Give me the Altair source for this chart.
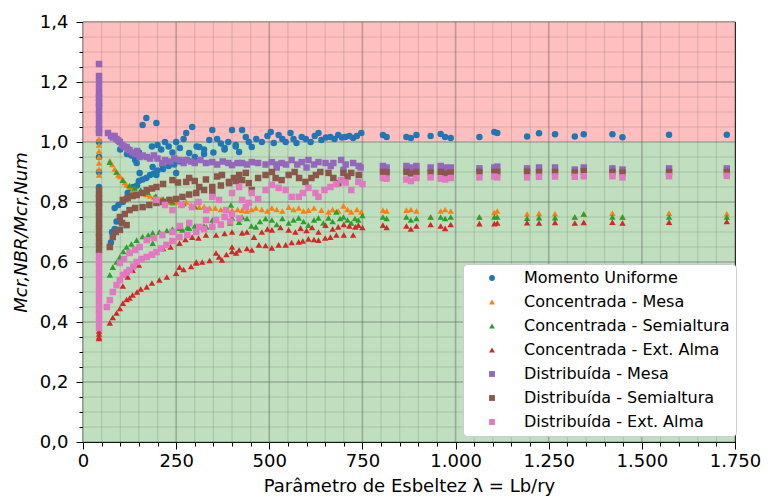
import altair as alt
import pandas as pd

labels = ["Momento Uniforme", "Concentrada - Mesa", "Concentrada - Semialtura",
          "Concentrada - Ext. Alma", "Distribuída - Mesa", "Distribuída - Semialtura",
          "Distribuída - Ext. Alma"]
colors = ["#1f77b4", "#ff7f0e", "#2ca02c", "#d62728", "#9467bd", "#8c564b", "#e377c2"]
shapes = ["circle", "triangle-up", "triangle-up", "triangle-up", "square", "square", "square"]

stack_x = 43
blue_stack = [1.14, 1.12, 1.10, 1.05, 1.0, 0.95, 0.90, 0.85, 0.82, 0.79, 0.76, 0.72, 0.69, 0.66]
orange_stack = [1.09, 1.07, 1.05, 1.03, 1.01, 0.99, 0.97, 0.95, 0.93, 0.91, 0.89]
green_stack = [0.70, 0.67, 0.64, 0.62, 0.60, 0.58, 0.56, 0.53]
red_stack = [0.44, 0.42, 0.37, 0.36, 0.35, 0.345]
purple_stack = [1.26, 1.22, 1.20, 1.18, 1.16, 1.15, 1.13, 1.12, 1.10, 1.08, 1.06, 1.04, 1.03]
brown_stack = [0.84, 0.82, 0.80, 0.78, 0.76, 0.74, 0.72, 0.70, 0.68, 0.66, 0.64]
pink_stack = [0.62, 0.60, 0.58, 0.56, 0.54, 0.52, 0.50, 0.48, 0.46, 0.44, 0.42, 0.40, 0.38]

blue_pts = [(75, 0.665), (78, 0.70), (85, 0.71), (90, 0.735), (99, 0.735), (85, 0.78), (95, 0.79),
            (107, 0.80), (115, 0.81), (120, 0.83), (128, 0.835), (135, 0.85), (145, 0.855), (150, 0.87),
            (160, 0.875), (170, 0.88), (180, 0.89), (190, 0.895), (200, 0.905), (215, 0.91), (230, 0.92),
            (245, 0.925), (260, 0.935), (280, 0.94), (300, 0.95), (325, 0.96), (350, 0.965), (380, 0.975),
            (410, 0.985), (152, 0.897), (197, 0.89), (250, 0.897), (144, 0.93), (187, 0.917), (213, 0.923),
            (100, 0.975), (110, 0.985), (118, 0.96), (130, 0.955), (140, 0.94), (150, 0.965), (160, 1.057),
            (170, 1.08), (197, 1.063), (185, 0.985), (200, 0.99), (210, 0.975), (220, 1.0), (230, 0.985),
            (240, 0.965), (250, 1.0), (260, 0.98), (270, 1.01), (277, 1.03), (285, 0.963), (293, 1.05),
            (305, 0.985), (312, 0.983), (325, 0.975), (339, 1.007), (347, 1.04), (360, 1.01), (370, 0.995),
            (380, 0.98), (390, 1.0), (400, 1.04), (410, 0.99), (419, 0.967), (427, 1.04), (437, 1.017),
            (445, 1.0), (453, 0.983), (465, 1.01), (480, 1.0), (495, 1.02), (504, 1.033), (512, 0.997),
            (525, 1.023), (535, 1.01), (544, 1.0), (557, 1.03), (565, 1.01), (573, 0.997), (587, 1.017),
            (598, 1.01), (611, 1.0), (622, 1.02), (632, 1.03), (640, 1.007), (652, 1.015), (664, 1.017),
            (675, 1.01), (685, 1.023), (695, 1.015), (704, 1.017), (715, 1.02), (725, 1.013), (735, 1.02),
            (747, 1.03)]

orange_pts = [(72, 0.937), (78, 0.925), (85, 0.91), (90, 0.9), (95, 0.89), (100, 0.885), (107, 0.875),
              (112, 0.865), (117, 0.857), (125, 0.85), (133, 0.84), (140, 0.84), (152, 0.83), (160, 0.83),
              (170, 0.825), (180, 0.82), (190, 0.815), (197, 0.817), (210, 0.81), (220, 0.805), (232, 0.80),
              (240, 0.797), (250, 0.80), (262, 0.79), (277, 0.80), (290, 0.79), (300, 0.787), (312, 0.783),
              (325, 0.785), (340, 0.78), (355, 0.78), (370, 0.775), (384, 0.773), (400, 0.773), (415, 0.775),
              (427, 0.773), (440, 0.77), (452, 0.775), (464, 0.78), (480, 0.775), (495, 0.77), (507, 0.78),
              (520, 0.775), (535, 0.77), (552, 0.783), (565, 0.775), (579, 0.78), (592, 0.77), (605, 0.773),
              (620, 0.78), (640, 0.773), (659, 0.767), (670, 0.775), (685, 0.77), (699, 0.787), (710, 0.775),
              (720, 0.767), (735, 0.775), (747, 0.767)]

green_pts = [(72, 0.933), (90, 0.9), (107, 0.873), (125, 0.855), (139, 0.847), (155, 0.84), (173, 0.833),
             (195, 0.82), (215, 0.81), (240, 0.80), (270, 0.795), (300, 0.785), (397, 0.79),
             (72, 0.557), (80, 0.583), (90, 0.60), (99, 0.617), (108, 0.635), (117, 0.65), (125, 0.633),
             (130, 0.66), (144, 0.673), (160, 0.685), (175, 0.69), (187, 0.663), (187, 0.697), (205, 0.70),
             (225, 0.705), (240, 0.71), (259, 0.713), (267, 0.707), (280, 0.715), (285, 0.713), (300, 0.72),
             (325, 0.72), (331, 0.717), (347, 0.74), (347, 0.723), (370, 0.725), (395, 0.73), (400, 0.747),
             (419, 0.733), (427, 0.75), (440, 0.745), (452, 0.72), (464, 0.717), (475, 0.735), (490, 0.745),
             (507, 0.74), (520, 0.725), (535, 0.745), (552, 0.73), (565, 0.74), (579, 0.747), (592, 0.735),
             (605, 0.723), (620, 0.74), (632, 0.747), (645, 0.73), (659, 0.747), (670, 0.735), (680, 0.767),
             (690, 0.745), (699, 0.75), (710, 0.74), (720, 0.73), (730, 0.745), (739, 0.74), (750, 0.755)]

red_pts = [(72, 0.397), (80, 0.415), (90, 0.43), (99, 0.445), (107, 0.463), (117, 0.475), (125, 0.48),
           (133, 0.49), (145, 0.50), (155, 0.51), (171, 0.517), (185, 0.53), (205, 0.54), (225, 0.55),
           (250, 0.563), (270, 0.575), (290, 0.585), (304, 0.597), (320, 0.60), (340, 0.605), (365, 0.617),
           (385, 0.625), (400, 0.635), (419, 0.64), (440, 0.645), (453, 0.64), (472, 0.657), (490, 0.655),
           (507, 0.647), (525, 0.657), (544, 0.657), (560, 0.665), (579, 0.667), (590, 0.67), (605, 0.677),
           (620, 0.675), (632, 0.673), (650, 0.68), (664, 0.683), (680, 0.69), (700, 0.69), (725, 0.69),
           (107, 0.52), (120, 0.55), (133, 0.573), (150, 0.59), (171, 0.617), (185, 0.625), (197, 0.633),
           (215, 0.645), (235, 0.65), (259, 0.663), (275, 0.675), (293, 0.683), (310, 0.68), (330, 0.69),
           (357, 0.69), (380, 0.695), (400, 0.70), (427, 0.697), (440, 0.70), (459, 0.683), (480, 0.70),
           (495, 0.71), (507, 0.707), (530, 0.715), (552, 0.707), (570, 0.70), (584, 0.713), (600, 0.705),
           (615, 0.715), (632, 0.70), (651, 0.723), (670, 0.71), (685, 0.717), (700, 0.725), (715, 0.72),
           (731, 0.717), (739, 0.723), (750, 0.715), (259, 0.583), (304, 0.60), (357, 0.63), (373, 0.607),
           (400, 0.65), (411, 0.63)]

purple_pts = [(67, 1.03), (75, 1.02), (80, 1.015), (85, 1.02), (90, 1.01), (95, 1.005), (99, 1.0),
              (105, 0.99), (110, 0.985), (117, 0.983), (120, 0.975), (125, 0.973), (132, 0.965), (140, 0.96),
              (145, 0.97), (152, 0.95), (160, 0.955), (171, 0.95), (180, 0.945), (190, 0.955), (200, 0.945),
              (213, 0.93), (220, 0.94), (235, 0.935), (245, 0.945), (259, 0.94), (270, 0.93), (277, 0.94),
              (290, 0.935), (300, 0.93), (315, 0.94), (330, 0.93), (347, 0.933), (360, 0.925), (375, 0.935),
              (390, 0.93), (400, 0.923), (415, 0.93), (427, 0.93), (440, 0.925), (453, 0.933), (470, 0.93),
              (490, 0.925), (507, 0.933), (520, 0.925), (533, 0.93), (545, 0.925), (560, 0.94), (575, 0.925),
              (587, 0.933), (605, 0.94), (620, 0.925), (632, 0.933), (651, 0.93), (665, 0.92), (672, 0.93),
              (693, 0.94), (705, 0.925), (725, 0.93), (740, 0.92), (520, 0.915), (600, 0.915), (699, 0.907),
              (745, 0.915)]

brown_pts = [(72, 0.65), (80, 0.683), (88, 0.70), (99, 0.707), (105, 0.73), (117, 0.723), (99, 0.75),
             (112, 0.76), (125, 0.773), (140, 0.78), (160, 0.783), (178, 0.79), (197, 0.797), (215, 0.80),
             (232, 0.807), (250, 0.81), (267, 0.817), (285, 0.825), (304, 0.83), (325, 0.84), (347, 0.85),
             (370, 0.855), (392, 0.863), (410, 0.87), (427, 0.873), (107, 0.807), (120, 0.813), (133, 0.82),
             (144, 0.823), (160, 0.83), (171, 0.84), (185, 0.845), (197, 0.85), (215, 0.86), (240, 0.873),
             (255, 0.865), (277, 0.867), (285, 0.88), (300, 0.87), (312, 0.85), (330, 0.875), (347, 0.83),
             (360, 0.885), (373, 0.89), (392, 0.867), (405, 0.88), (419, 0.89), (437, 0.897), (445, 0.863),
             (453, 0.84), (470, 0.88), (490, 0.89), (507, 0.9), (517, 0.88), (533, 0.873), (552, 0.89),
             (568, 0.9), (580, 0.88), (597, 0.867), (613, 0.88), (625, 0.89), (637, 0.9), (659, 0.897),
             (672, 0.88), (685, 0.863), (699, 0.897), (710, 0.885), (720, 0.897), (740, 0.89)]

pink_pts = [(64, 0.45), (72, 0.473), (80, 0.50), (90, 0.523), (99, 0.54), (107, 0.557), (117, 0.565),
            (125, 0.573), (135, 0.585), (144, 0.60), (157, 0.61), (171, 0.617), (185, 0.625), (197, 0.633),
            (210, 0.645), (224, 0.657), (240, 0.67), (259, 0.683), (280, 0.69), (304, 0.70), (325, 0.71),
            (347, 0.717), (370, 0.725), (395, 0.735), (420, 0.745), (99, 0.597), (110, 0.61), (125, 0.63),
            (140, 0.64), (152, 0.65), (171, 0.673), (190, 0.68), (213, 0.69), (240, 0.70), (260, 0.72),
            (285, 0.73), (312, 0.717), (330, 0.74), (357, 0.74), (380, 0.75), (400, 0.76), (437, 0.783),
            (445, 0.797), (197, 0.807), (220, 0.79), (240, 0.773), (265, 0.79), (293, 0.783), (310, 0.80),
            (331, 0.773), (347, 0.817), (365, 0.807), (384, 0.773), (400, 0.83), (419, 0.85), (427, 0.807),
            (453, 0.83), (470, 0.81), (490, 0.84), (507, 0.857), (525, 0.847), (544, 0.84), (560, 0.817),
            (579, 0.817), (590, 0.83), (605, 0.847), (624, 0.83), (632, 0.817), (648, 0.84), (664, 0.85),
            (680, 0.86), (693, 0.873), (705, 0.865), (720, 0.84), (739, 0.867), (750, 0.86)]

sparse_x = [805, 815, 868, 880, 895, 933, 960, 972, 987, 1064, 1104, 1112, 1192, 1224, 1267,
            1320, 1344, 1421, 1448, 1573, 1728]
blue_s = [1.023, 1.017, 1.017, 1.013, 1.023, 1.02, 1.027, 1.017, 1.013, 1.017, 1.033, 1.03, 1.018,
          1.029, 1.026, 1.018, 1.026, 1.026, 1.016, 1.024, 1.024]
orange_s = [0.773, 0.77, 0.773, 0.775, 0.77, 0.75, 0.77, 0.775, 0.77, 0.75, 0.765, 0.77, 0.76, 0.762,
            0.761, 0.75, 0.76, 0.763, 0.75, 0.763, 0.761]
green_s = [0.75, 0.745, 0.75, 0.74, 0.745, 0.75, 0.75, 0.745, 0.75, 0.75, 0.75, 0.75, 0.746, 0.748,
           0.748, 0.75, 0.76, 0.75, 0.75, 0.75, 0.75]
red_s = [0.723, 0.715, 0.72, 0.71, 0.72, 0.725, 0.72, 0.712, 0.725, 0.728, 0.728, 0.73, 0.731, 0.73,
         0.732, 0.73, 0.732, 0.733, 0.73, 0.733, 0.735]
purple_s = [0.92, 0.915, 0.92, 0.915, 0.92, 0.915, 0.92, 0.915, 0.915, 0.912, 0.915, 0.918, 0.912,
            0.915, 0.915, 0.908, 0.915, 0.912, 0.908, 0.912, 0.912]
brown_s = [0.9, 0.898, 0.9, 0.895, 0.9, 0.898, 0.9, 0.895, 0.898, 0.9, 0.9, 0.9, 0.901, 0.9, 0.9,
           0.898, 0.903, 0.9, 0.898, 0.9, 0.9]
pink_s = [0.88, 0.878, 0.875, 0.87, 0.88, 0.882, 0.878, 0.875, 0.88, 0.882, 0.885, 0.882, 0.882,
          0.884, 0.885, 0.884, 0.886, 0.886, 0.882, 0.886, 0.887]

x_grid = list(range(0, 1751, 50))
y_grid = [round(0.05 * i, 2) for i in range(29)]
zones = [(0.0, 1.0, "#bfdfbf"), (1.0, 1.4, "#ffbfbf")]

series = [
    (blue_stack, blue_pts, blue_s), (orange_stack, orange_pts, orange_s),
    (green_stack, green_pts, green_s), (red_stack, red_pts, red_s),
    (purple_stack, purple_pts, purple_s), (brown_stack, brown_pts, brown_s),
    (pink_stack, pink_pts, pink_s),
]
rows = []
for lab, (stk, pts, sp) in zip(labels, series):
    for v in stk:
        rows.append({"x": stack_x, "y": v, "s": lab})
    for xv, yv in pts:
        rows.append({"x": xv, "y": yv, "s": lab})
    for xv, yv in zip(sparse_x, sp):
        rows.append({"x": xv, "y": yv, "s": lab})
pts_df = pd.DataFrame(rows)

zone_df = pd.DataFrame([{"x0": 0, "x1": 1750, "y0": a, "y1": b, "c": c} for a, b, c in zones])
vgrid = pd.DataFrame([{"v": v, "w": 1.6 if v % 250 == 0 else 1.1, "o": 0.36 if v % 250 == 0 else 0.18}
                      for v in x_grid])
hgrid = pd.DataFrame([{"v": v, "w": 1.6 if abs(v * 5 - round(v * 5)) < 1e-6 else 1.1,
                       "o": 0.36 if abs(v * 5 - round(v * 5)) < 1e-6 else 0.18} for v in y_grid])

xscale = alt.Scale(domain=[0, 1750], nice=False, zero=False)
yscale = alt.Scale(domain=[0, 1.4], nice=False, zero=False)

xaxis = alt.Axis(
    values=x_grid, title="Parâmetro de Esbeltez λ = Lb/ry", grid=False,
    labelExpr="datum.value % 250 === 0 ? replace(format(datum.value, ','), ',', '.') : ''",
    tickSize={"condition": {"test": "datum.value % 250 === 0", "value": 7}, "value": 4},
    labelPadding=3, labelOverlap=False, labelFlush=False, titleY=49, titleBaseline="alphabetic",
)
yaxis = alt.Axis(
    values=y_grid, title="Mcr,NBR/Mcr,Num", grid=False, titleFontStyle="italic",
    labelExpr="abs(datum.value*5 - round(datum.value*5)) < 0.001 ? replace(format(datum.value, '.1f'), '.', ',') : ''",
    tickSize={"condition": {"test": "abs(datum.value*5 - round(datum.value*5)) < 0.001", "value": 7}, "value": 4},
    labelPadding=8, labelOverlap=False, labelFlush=False, titleX=-62, titleBaseline="middle",
)

bands = alt.Chart(zone_df).mark_rect().encode(
    x=alt.X("x0:Q", scale=xscale, axis=xaxis), x2="x1:Q",
    y=alt.Y("y0:Q", scale=yscale, axis=yaxis), y2="y1:Q",
    fill=alt.Fill("c:N", scale=None),
)
vlines = alt.Chart(vgrid).mark_rule(color="#505050").encode(
    x=alt.X("v:Q", scale=xscale, axis=xaxis),
    strokeWidth=alt.StrokeWidth("w:Q", scale=None),
    opacity=alt.Opacity("o:Q", scale=None),
)
hlines = alt.Chart(hgrid).mark_rule(color="#505050").encode(
    y=alt.Y("v:Q", scale=yscale, axis=yaxis),
    strokeWidth=alt.StrokeWidth("w:Q", scale=None),
    opacity=alt.Opacity("o:Q", scale=None),
)
legend = alt.Legend(
    title=None, orient="none", legendX=380, legendY=242, fillColor="white", strokeColor="#cccccc",
    cornerRadius=4, padding=6, labelFontSize=16, symbolSize=34, rowPadding=8, symbolOffset=15,
    labelOffset=24, labelLimit=400, symbolStrokeWidth=0,
)
points = alt.Chart(pts_df).mark_point(filled=True, size=42, opacity=1).encode(
    x=alt.X("x:Q", scale=xscale, axis=xaxis),
    y=alt.Y("y:Q", scale=yscale, axis=yaxis),
    color=alt.Color("s:N", scale=alt.Scale(domain=labels, range=colors), legend=legend),
    shape=alt.Shape("s:N", scale=alt.Scale(domain=labels, range=shapes), legend=legend),
    order=alt.Order("idx:Q"),
).transform_window(idx="row_number()")

chart = alt.layer(bands, vlines, hlines, points).properties(
    width=652, height=420,
    autosize=alt.AutoSizeParams(type="none"),
    padding={"left": 75, "top": 14, "right": 27, "bottom": 54},
).configure(font="DejaVu Sans").configure_view(stroke="black", strokeWidth=1.2).configure_axis(
    labelFontSize=18, titleFontSize=18, labelColor="black", titleColor="black",
    domainColor="black", tickColor="black", titleFontWeight="normal", labelFont="DejaVu Sans",
    titleFont="DejaVu Sans",
).configure_legend(labelColor="black", labelFont="DejaVu Sans")

chart.save("out.html", embed_options={"renderer": "svg", "actions": False})
